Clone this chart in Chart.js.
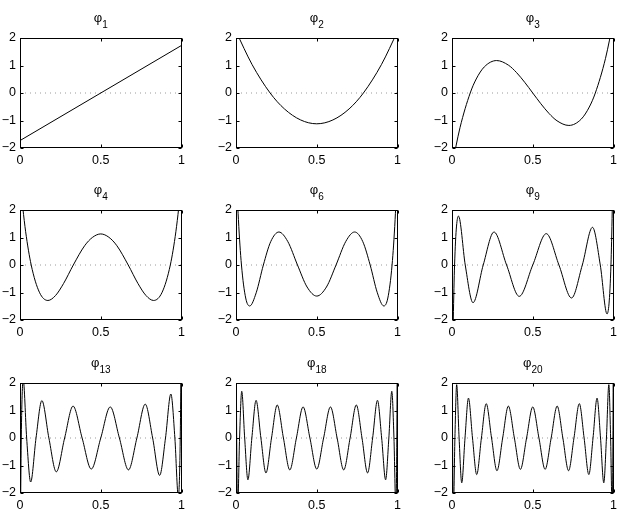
<!DOCTYPE html>
<html>
<head>
<meta charset="utf-8">
<script src="https://cdn.jsdelivr.net/npm/chart.js@4.4.1/dist/chart.umd.min.js"></script>
<style>
  html, body { margin: 0; padding: 0; background: #fff; overflow: hidden; }
  body { width: 624px; height: 511px; position: relative; }
  canvas { position: absolute; }
</style>
</head>
<body>
<script>
// subscripts of the nine panels
const indices = [1, 2, 3, 4, 6, 9, 13, 18, 20];

const xTicks = [0, 0.5, 1];
const yTicks = [-2, -1, 0, 1, 2];
const zeroLineX = [0, 1];
const zeroLineY = [0, 0];

// curves (extrema, zero crossings and a few points between)
const phi1X = [0, 1];
const phi1Y = [-1.73, 1.73];

const phi2X = [0, 0.1, 0.2113, 0.3, 0.4, 0.5, 0.6, 0.7, 0.7887, 0.9, 1];
const phi2Y = [2.24, 1.03, 0, -0.58, -0.98, -1.12, -0.98, -0.58, 0, 1.03, 2.24];

const phi3X = [0, 0.05, 0.1127, 0.15, 0.2, 0.2764, 0.35, 0.4, 0.45, 0.5, 0.55, 0.6, 0.65, 0.7236, 0.8, 0.85, 0.8873, 0.95, 1];
const phi3Y = [-2.65, -1.25, 0, 0.51, 0.95, 1.18, 1.01, 0.74, 0.39, 0, -0.39, -0.74, -1.01, -1.18, -0.95, -0.51, 0, 1.25, 2.65];

const phi4X = [0, 0.035, 0.0694, 0.12, 0.1727, 0.22, 0.27, 0.33, 0.4, 0.45, 0.5, 0.55, 0.6, 0.67, 0.73, 0.78, 0.8273, 0.88, 0.9306, 0.965, 1];
const phi4Y = [3.00, 1.21, 0, -0.99, -1.29, -1.11, -0.67, 0, 0.70, 1.01, 1.13, 1.01, 0.70, 0, -0.67, -1.11, -1.29, -0.99, 0, 1.21, 3.00];

const phi6X = [0, 0.015, 0.0338, 0.06, 0.0849, 0.125, 0.1694, 0.215, 0.2656, 0.32, 0.3807, 0.44, 0.5,
               0.56, 0.6193, 0.68, 0.7344, 0.785, 0.8306, 0.875, 0.9151, 0.94, 0.9662, 0.985, 1];
const phi6Y = [3.61, 1.65, 0, -1.20, -1.49, -1.01, 0, 0.85, 1.20, 0.86, 0, -0.80, -1.13,
               -0.80, 0, 0.86, 1.20, 0.85, 0, -1.01, -1.49, -1.20, 0, 1.65, 3.61];

const phi9X = [0, 0.0159, 0.0401, 0.0820, 0.1302, 0.1933, 0.2600, 0.3379, 0.4163, 0.5,
               0.5837, 0.6621, 0.7400, 0.8067, 0.8698, 0.9180, 0.9599, 0.9841, 1];
const phi9Y = [-4.36, 0, 1.78, 0, -1.37, 0, 1.20, 0, -1.14, 0,
               1.14, 0, -1.20, 0, 1.37, 0, -1.78, 0, 4.36];

const phi13X = [0, 0.0079, 0.0200, 0.0412, 0.0660, 0.0992, 0.1354, 0.1788, 0.2247, 0.2763, 0.3284, 0.3846, 0.4413, 0.5,
                0.5587, 0.6154, 0.6716, 0.7237, 0.7753, 0.8212, 0.8646, 0.9008, 0.9340, 0.9588, 0.9800, 0.9921, 1];
const phi13Y = [-5.20, 0, 2.11, 0, -1.60, 0, 1.36, 0, -1.23, 0, 1.16, 0, -1.13, 0,
                1.13, 0, -1.16, 0, 1.23, 0, -1.36, 0, 1.60, 0, -2.11, 0, 5.20];

const phi18X = [0, 0.0042, 0.0107, 0.0221, 0.0355, 0.0537, 0.0737, 0.0982, 0.1242, 0.1541, 0.1854, 0.2199, 0.2552,
                0.2936, 0.3331, 0.3740, 0.4153, 0.4576, 0.5, 0.5424, 0.5847, 0.6260, 0.6669, 0.7064, 0.7448, 0.7801,
                0.8146, 0.8459, 0.8758, 0.9018, 0.9263, 0.9463, 0.9645, 0.9779, 0.9893, 0.9958, 1];
const phi18Y = [6.08, 0, -2.46, 0, 1.70, 0, -1.52, 0, 1.37, 0, -1.27, 0, 1.20,
                0, -1.16, 0, 1.13, 0, -1.13, 0, 1.13, 0, -1.16, 0, 1.20, 0,
                -1.27, 0, 1.37, 0, -1.52, 0, 1.70, 0, -2.46, 0, 6.08];

const phi20X = [0, 0.0035, 0.0087, 0.0180, 0.0290, 0.0439, 0.0603, 0.0805, 0.1019, 0.1269, 0.1529, 0.1821, 0.2118,
                0.2449, 0.2783, 0.3137, 0.3489, 0.3861, 0.4235, 0.4617, 0.5, 0.5383, 0.5765, 0.6139, 0.6511, 0.6863,
                0.7217, 0.7551, 0.7882, 0.8179, 0.8471, 0.8731, 0.8981, 0.9195, 0.9397, 0.9561, 0.9710, 0.9820,
                0.9913, 0.9965, 1];
const phi20Y = [6.40, 0, -2.59, 0, 1.94, 0, -1.63, 0, 1.45, 0, -1.33, 0, 1.25,
                0, -1.19, 0, 1.16, 0, -1.14, 0, 1.13, 0, -1.14, 0, 1.16, 0,
                -1.19, 0, 1.25, 0, -1.33, 0, 1.45, 0, -1.63, 0, 1.94, 0,
                -2.59, 0, 6.40];

const curvesX = [phi1X, phi2X, phi3X, phi4X, phi6X, phi9X, phi13X, phi18X, phi20X];
const curvesY = [phi1Y, phi2Y, phi3Y, phi4Y, phi6Y, phi9Y, phi13Y, phi18Y, phi20Y];

Chart.defaults.font.family = "'Liberation Sans', Arial, Helvetica, sans-serif";
Chart.defaults.color = '#000';

// box round the axes, inward tick marks and the φ title with its subscript
const framePlugin = {
  id: 'frame',
  afterDraw(chart, args, opts) {
    const { ctx, chartArea: a, scales: { x, y } } = chart;
    const l = Math.round(a.left) + 0.5, r = Math.round(a.right) - 0.5;
    const t = Math.round(a.top) + 0.5, b = Math.round(a.bottom) - 0.5;
    ctx.save();
    ctx.strokeStyle = '#000';
    ctx.lineWidth = 1;
    ctx.strokeRect(l, t, r - l, b - t);
    ctx.beginPath();
    x.ticks.forEach(tk => {
      const px = Math.round(x.getPixelForValue(tk.value)) + 0.5;
      ctx.moveTo(px, b); ctx.lineTo(px, b - 3);
      ctx.moveTo(px, t); ctx.lineTo(px, t + 3);
    });
    y.ticks.forEach(tk => {
      const py = Math.round(y.getPixelForValue(tk.value)) + 0.5;
      ctx.moveTo(l, py); ctx.lineTo(l + 3, py);
      ctx.moveTo(r, py); ctx.lineTo(r - 3, py);
    });
    ctx.stroke();

    ctx.fillStyle = '#000';
    ctx.textBaseline = 'alphabetic';
    ctx.textAlign = 'left';
    const fam = Chart.defaults.font.family;
    ctx.font = '13px ' + fam;
    const wPhi = ctx.measureText('φ').width;
    ctx.font = '10px ' + fam;
    const wSub = ctx.measureText(opts.sub).width;
    const x0 = (a.left + a.right) / 2 - (wPhi + wSub) / 2;
    ctx.font = '13px ' + fam;
    ctx.fillText('φ', x0, a.top - 16);
    ctx.font = '10px ' + fam;
    ctx.fillText(opts.sub, x0 + wPhi, a.top - 10);
    ctx.restore();
  }
};

const colLeft = [0, 216, 432];
const rowTop = [0, 172, 345];

curvesX.forEach((xs, i) => {
  const ys = curvesY[i];
  const canvas = document.createElement('canvas');
  canvas.width = 190;
  canvas.height = 165;
  canvas.style.left = colLeft[i % 3] + 'px';
  canvas.style.top = rowTop[Math.floor(i / 3)] + 'px';
  canvas.style.width = '190px';
  canvas.style.height = '165px';
  document.body.appendChild(canvas);

  new Chart(canvas, {
    type: 'line',
    data: {
      datasets: [{
        data: xs.map((v, k) => ({ x: v, y: ys[k] })),
        borderColor: '#000',
        borderWidth: 1,
        pointRadius: 0,
        fill: false,
        cubicInterpolationMode: 'monotone',
        order: 1
      }, {
        data: zeroLineX.map((v, k) => ({ x: v, y: zeroLineY[k] })),
        borderColor: '#9a9a9a',
        borderWidth: 1,
        borderDash: [1, 4],
        pointRadius: 0,
        fill: false,
        order: 2
      }]
    },
    options: {
      responsive: false,
      animation: false,
      layout: { padding: { left: 0, top: 38, right: 7, bottom: 0 } },
      plugins: {
        legend: { display: false },
        tooltip: { enabled: false },
        frame: { sub: String(indices[i]) }
      },
      scales: {
        x: {
          type: 'linear',
          min: 0,
          max: 1,
          afterFit: s => { s.height = 17; },
          afterBuildTicks: s => { s.ticks = xTicks.map(v => ({ value: v })); },
          grid: { display: false, drawTicks: false },
          border: { display: false },
          ticks: {
            padding: 5,
            maxRotation: 0,
            autoSkip: false,
            font: { size: 12.5 },
            callback: v => String(v)
          }
        },
        y: {
          type: 'linear',
          min: -2,
          max: 2,
          afterFit: s => { s.width = 20; },
          afterBuildTicks: s => { s.ticks = yTicks.map(v => ({ value: v })); },
          grid: { display: false, drawTicks: false },
          border: { display: false },
          ticks: {
            padding: 4,
            autoSkip: false,
            font: { size: 12.5 },
            callback: v => (v < 0 ? '\u2212' + (-v) : String(v))
          }
        }
      }
    },
    plugins: [framePlugin]
  });
});
</script>
</body>
</html>
